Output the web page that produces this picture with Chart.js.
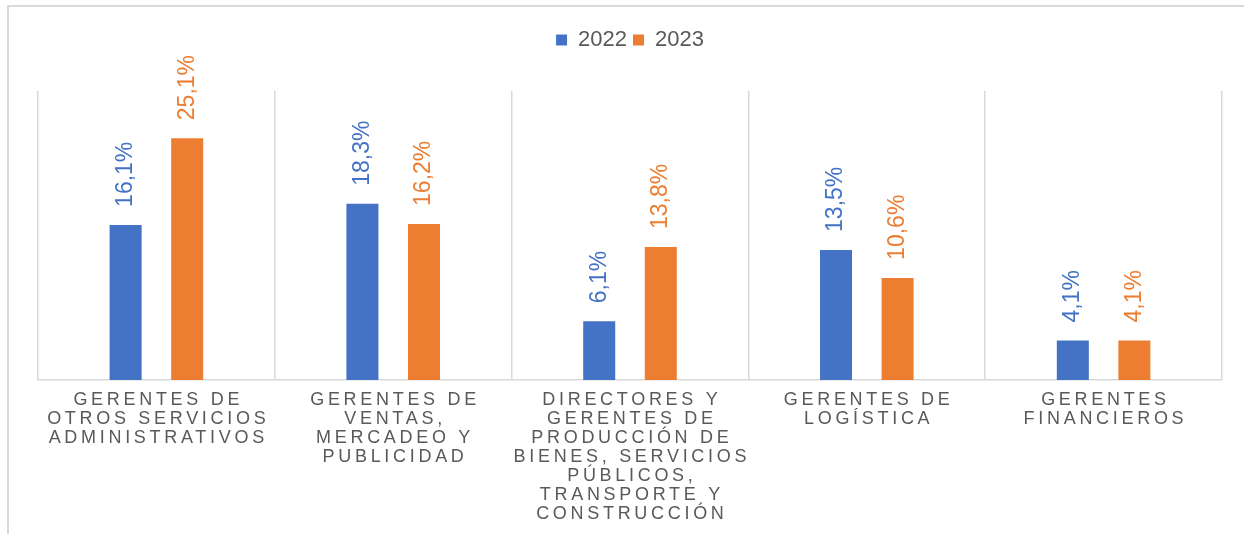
<!DOCTYPE html>
<html>
<head>
<meta charset="utf-8">
<script src="https://cdn.jsdelivr.net/npm/chart.js@4.4.1/dist/chart.umd.min.js"></script>
<style>
  html, body { margin: 0; padding: 0; background: #fff; }
  #frame {
    position: absolute; left: 7px; top: 5px; width: 1400px; height: 700px;
    border-top: 2px solid #d9d9d9; border-left: 2px solid #d9d9d9;
  }
  #wrap { position: absolute; left: 0; top: 0; width: 1244px; height: 534px; }
</style>
</head>
<body>
<div id="frame"></div>
<div id="wrap"><canvas id="c" width="1244" height="534"></canvas></div>
<script>
// Occupations (category labels, already split into lines as in the picture)
const categories = [
  ['GERENTES DE', 'OTROS SERVICIOS', 'ADMINISTRATIVOS'],
  ['GERENTES DE', 'VENTAS,', 'MERCADEO Y', 'PUBLICIDAD'],
  ['DIRECTORES Y', 'GERENTES DE', 'PRODUCCIÓN DE', 'BIENES, SERVICIOS', 'PÚBLICOS,', 'TRANSPORTE Y', 'CONSTRUCCIÓN'],
  ['GERENTES DE', 'LOGÍSTICA'],
  ['GERENTES', 'FINANCIEROS']
];

const seriesNames = ['2022', '2023'];
const values2022 = [16.1, 18.3, 6.1, 13.5, 4.1];
const values2023 = [25.1, 16.2, 13.8, 10.6, 4.1];

const BLUE = '#4472C4';
const ORANGE = '#ED7D31';
const GREY_TEXT = '#595959';
const GRID = '#d9d9d9';
const FONT = "'Liberation Sans', Arial, sans-serif";

const fmtPct = v => v.toFixed(1).replace('.', ',') + '%';

// rotated value labels above each bar
const barLabels = {
  id: 'barLabels',
  afterDatasetsDraw(chart) {
    const ctx = chart.ctx;
    ctx.save();
    ctx.font = `23px ${FONT}`;
    ctx.textAlign = 'left';
    ctx.textBaseline = 'middle';
    chart.data.datasets.forEach((ds, di) => {
      chart.getDatasetMeta(di).data.forEach((bar, i) => {
        ctx.save();
        ctx.fillStyle = ds.backgroundColor;
        ctx.translate(bar.x, bar.y - 18);
        ctx.rotate(-Math.PI / 2);
        ctx.fillText(fmtPct(ds.data[i]), 0, 0);
        ctx.restore();
      });
    });
    ctx.restore();
  }
};

// spaced-out category labels under the axis
const catLabels = {
  id: 'catLabels',
  afterDraw(chart) {
    const ctx = chart.ctx;
    const xs = chart.scales.x;
    const spacing = 3.7;
    ctx.save();
    ctx.font = `18px ${FONT}`;
    ctx.fillStyle = GREY_TEXT;
    ctx.textAlign = 'center';
    ctx.textBaseline = 'alphabetic';
    ctx.letterSpacing = spacing + 'px';
    categories.forEach((lines, i) => {
      const x = xs.getPixelForValue(i) + spacing / 2;
      lines.forEach((ln, j) => {
        ctx.fillText(ln, x, chart.chartArea.bottom + 25 + j * 19);
      });
    });
    ctx.restore();
  }
};

// extra room between the legend and the plot
const legendRoom = {
  id: 'legendRoom',
  beforeInit(chart) {
    const fit = chart.legend.fit;
    chart.legend.fit = function () {
      fit.bind(chart.legend)();
      this.height = 68;
    };
  }
};

new Chart(document.getElementById('c'), {
  type: 'bar',
  data: {
    labels: categories.map(l => l.join(' ')),
    datasets: [
      { label: seriesNames[0], data: values2022, backgroundColor: BLUE,
        categoryPercentage: 0.52, barPercentage: 0.52 },
      { label: seriesNames[1], data: values2023, backgroundColor: ORANGE,
        categoryPercentage: 0.52, barPercentage: 0.52 }
    ]
  },
  options: {
    responsive: false,
    animation: false,
    layout: { padding: { top: 23, left: 38, right: 22, bottom: 154 } },
    plugins: {
      legend: {
        position: 'top',
        labels: { color: GREY_TEXT, font: { family: FONT, size: 22 }, boxWidth: 11, boxHeight: 11, padding: 6 }
      },
      tooltip: { enabled: false }
    },
    scales: {
      x: {
        grid: { display: true, color: GRID, lineWidth: 1.5, drawTicks: false, offset: true },
        border: { display: true, color: GRID, width: 1.5 },
        ticks: { display: false }
      },
      y: {
        display: false,
        min: 0,
        max: 30
      }
    }
  },
  plugins: [legendRoom, barLabels, catLabels]
});
</script>
</body>
</html>
